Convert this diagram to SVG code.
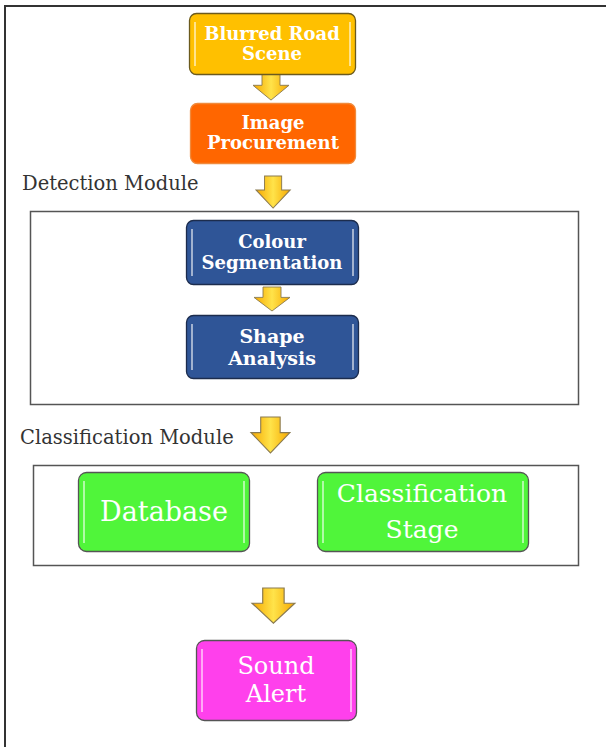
<svg xmlns="http://www.w3.org/2000/svg" width="606" height="747" viewBox="0 0 606 747">
<defs>
<linearGradient id="arrowGrad" x1="0" y1="0" x2="1" y2="0">
<stop offset="0" stop-color="#F6A800"/>
<stop offset="0.5" stop-color="#FFE34A"/>
<stop offset="1" stop-color="#F6A800"/>
</linearGradient>
<path id="arrow" d="M9,0 H27 V13 H36 L18,30 L0,13 H9 Z" fill="url(#arrowGrad)" stroke="#8a7a50" stroke-width="1"/>
<style>
.frame{fill:none;stroke:#555;stroke-width:1.5}
.outer{fill:none;stroke:#333;stroke-width:2}
.node{stroke-width:1.3}
.hl{stroke:#ffffff;stroke-opacity:0.55;stroke-width:2;fill:none}
.bt{font-family:"DejaVu Serif","Liberation Serif",serif;font-weight:bold;fill:#ffffff;text-anchor:middle}
.rt{font-family:"DejaVu Serif","Liberation Serif",serif;fill:#ffffff;text-anchor:middle}
.lbl{font-family:"DejaVu Serif","Liberation Serif",serif;fill:#333;font-size:19.5px}
</style>
</defs>
<rect width="606" height="747" fill="#ffffff"/>
<path class="outer" d="M5,747 V6 H606"/>
<g id="detection-frame"><rect class="frame" x="30.5" y="211.5" width="548" height="193"/></g>
<g id="classification-frame"><rect class="frame" x="33.5" y="465.5" width="545" height="100"/></g>
<text class="lbl" x="22" y="190">Detection Module</text>
<text class="lbl" x="20" y="444">Classification Module</text>

<g id="connectors">
<use href="#arrow" transform="translate(253,74) scale(1,0.87)"/>
<use href="#arrow" transform="translate(256,176) scale(0.95,1.07)"/>
<use href="#arrow" transform="translate(254,287) scale(1,0.8)"/>
<use href="#arrow" transform="translate(251,417) scale(1.08,1.2)"/>
<use href="#arrow" transform="translate(252,588) scale(1.19,1.17)"/>
</g>

<g id="blurred-road-scene">
<rect class="node" x="189.5" y="13.5" width="166" height="61" rx="7" fill="#FFC000" stroke="#6b5a1e"/>
<path class="hl" d="M195,22 V66 M350,22 V66"/>
<text class="bt" x="272" y="40" font-size="18">Blurred Road</text>
<text class="bt" x="272" y="60" font-size="18">Scene</text>
</g>

<g id="image-procurement">
<rect class="node" x="190.5" y="103.5" width="165" height="60" rx="7" fill="#FF6600" stroke="#f08a3c"/>
<text class="bt" x="273" y="129" font-size="18">Image</text>
<text class="bt" x="273" y="149" font-size="18">Procurement</text>
</g>

<g id="colour-segmentation">
<rect class="node" x="186.5" y="220.5" width="172" height="64" rx="7" fill="#2F5597" stroke="#1c2c4d"/>
<path class="hl" d="M192,229 V276 M353,229 V276"/>
<text class="bt" x="272" y="248" font-size="18">Colour</text>
<text class="bt" x="272" y="269" font-size="18">Segmentation</text>
</g>

<g id="shape-analysis">
<rect class="node" x="186.5" y="315.5" width="172" height="63" rx="7" fill="#2F5597" stroke="#1c2c4d"/>
<path class="hl" d="M192,324 V370 M353,324 V370"/>
<text class="bt" x="272" y="343" font-size="19">Shape</text>
<text class="bt" x="272" y="365" font-size="19">Analysis</text>
</g>

<g id="database">
<rect class="node" x="78.5" y="472.5" width="171" height="79" rx="8" fill="#50F53A" stroke="#555"/>
<path class="hl" d="M84,481 V543 M244,481 V543"/>
<text class="rt" x="164" y="521" font-size="27">Database</text>
</g>

<g id="classification-stage">
<rect class="node" x="317.5" y="472.5" width="211" height="79" rx="8" fill="#50F53A" stroke="#555"/>
<path class="hl" d="M323,481 V543 M523,481 V543"/>
<text class="rt" x="422" y="502" font-size="25">Classification</text>
<text class="rt" x="422" y="538" font-size="25">Stage</text>
</g>

<g id="sound-alert">
<rect class="node" x="196.5" y="640.5" width="160" height="80" rx="8" fill="#FF40EC" stroke="#555"/>
<path class="hl" d="M202,649 V712 M351,649 V712"/>
<text class="rt" x="276" y="674" font-size="24">Sound</text>
<text class="rt" x="276" y="702" font-size="24">Alert</text>
</g>
</svg>
